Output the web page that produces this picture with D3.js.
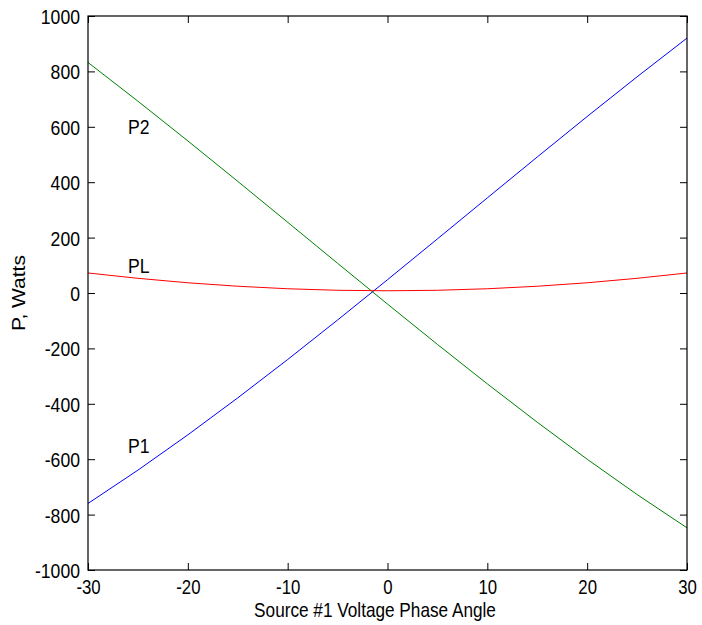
<!DOCTYPE html>
<html>
<head>
<meta charset="utf-8">
<script src="https://cdn.jsdelivr.net/npm/d3@7"></script>
<style>
  body { margin: 0; background: #fff; }
</style>
</head>
<body>
<div id="chart"></div>
<script>
// phase angle of source #1, degrees
const angles = [-30, -25, -20, -15, -10, -5, 0, 5, 10, 15, 20, 25, 30];
const p1 = [-759.8, -639.5, -512.1, -378.6, -240.1, -97.5, 48.0, 195.3, 343.4, 491.0, 637.1, 780.5, 920.2];
const p2 = [832.2, 692.5, 549.1, 403.0, 255.4, 107.3, -40.0, -185.5, -328.1, -466.6, -600.1, -727.5, -847.8];
const pl = [72.3, 53.0, 36.9, 24.4, 15.3, 9.8, 8.0, 9.8, 15.3, 24.4, 36.9, 53.0, 72.3];

const xTicks = [-30, -20, -10, 0, 10, 20, 30];
const yTicks = [-1000, -800, -600, -400, -200, 0, 200, 400, 600, 800, 1000];

const series = [
  { name: "P1", values: p1, color: "#0000ff", labelAt: [-26, -550] },
  { name: "P2", values: p2, color: "#008000", labelAt: [-26, 600] },
  { name: "PL", values: pl, color: "#ff0000", labelAt: [-26, 100] }
];

const width = 702, height = 625;
const margin = { top: 16, right: 15, bottom: 55, left: 88 };
const sx = 0.84;   // text looks horizontally squeezed
const fs = 21;
const font = "'Liberation Sans', Arial, sans-serif";

const x = d3.scaleLinear().domain([-30, 30]).range([margin.left, width - margin.right]);
const y = d3.scaleLinear().domain([-1000, 1000]).range([height - margin.bottom, margin.top]);

const svg = d3.select("#chart").append("svg")
  .attr("width", width)
  .attr("height", height)
  .attr("font-family", font);

// curves
const line = d3.line()
  .x((d, i) => x(angles[i]))
  .y(d => y(d));

svg.append("g")
  .attr("fill", "none")
  .attr("stroke-width", 1)
  .selectAll("path")
  .data(series)
  .join("path")
  .attr("stroke", d => d.color)
  .attr("d", d => line(d.values));

// axes, box style with inward ticks
const tick = 7;
const styleAxis = g => {
  g.select(".domain").remove();
  g.selectAll(".tick line").attr("stroke", "#000");
};

svg.append("g")
  .attr("transform", `translate(0,${height - margin.bottom})`)
  .call(d3.axisBottom(x).tickValues(xTicks).tickSizeInner(-tick).tickSizeOuter(0).tickFormat(d => String(d)))
  .call(styleAxis)
  .call(g => g.selectAll(".tick text")
    .attr("y", 24)
    .attr("dy", null)
    .attr("font-size", 20)
    .attr("fill", "#000")
    .attr("transform", `scale(${sx},1)`));

svg.append("g")
  .attr("transform", `translate(0,${margin.top})`)
  .call(d3.axisTop(x).tickValues(xTicks).tickSizeInner(-tick).tickSizeOuter(0).tickFormat(""))
  .call(styleAxis);

svg.append("g")
  .attr("transform", `translate(${margin.left},0)`)
  .call(d3.axisLeft(y).tickValues(yTicks).tickSizeInner(-tick).tickSizeOuter(0).tickFormat(d => String(d)))
  .call(styleAxis)
  .call(g => g.selectAll(".tick text")
    .attr("x", -8 / sx)
    .attr("dy", "0.36em")
    .attr("font-size", fs)
    .attr("fill", "#000")
    .attr("transform", `scale(${sx},1)`));

svg.append("g")
  .attr("transform", `translate(${width - margin.right},0)`)
  .call(d3.axisRight(y).tickValues(yTicks).tickSizeInner(-tick).tickSizeOuter(0).tickFormat(""))
  .call(styleAxis);

svg.append("rect")
  .attr("x", margin.left)
  .attr("y", margin.top)
  .attr("width", width - margin.left - margin.right)
  .attr("height", height - margin.top - margin.bottom)
  .attr("fill", "none")
  .attr("stroke", "#000")
  .attr("stroke-width", 1.2);

// series labels
svg.append("g")
  .selectAll("text")
  .data(series)
  .join("text")
  .attr("transform", d => `translate(${x(d.labelAt[0])},${y(d.labelAt[1])}) scale(${sx},1)`)
  .attr("dy", "0.36em")
  .attr("font-size", fs)
  .attr("fill", "#000")
  .text(d => d.name);

// axis titles
svg.append("text")
  .attr("transform", `translate(375,617) scale(0.86,1)`)
  .attr("text-anchor", "middle")
  .attr("font-size", 20)
  .attr("fill", "#000")
  .text("Source #1 Voltage Phase Angle");

svg.append("text")
  .attr("transform", `translate(25,${(margin.top + height - margin.bottom) / 2}) scale(${sx},1) rotate(-90)`)
  .attr("text-anchor", "middle")
  .attr("font-size", fs)
  .attr("fill", "#000")
  .text("P, Watts");
</script>
</body>
</html>
